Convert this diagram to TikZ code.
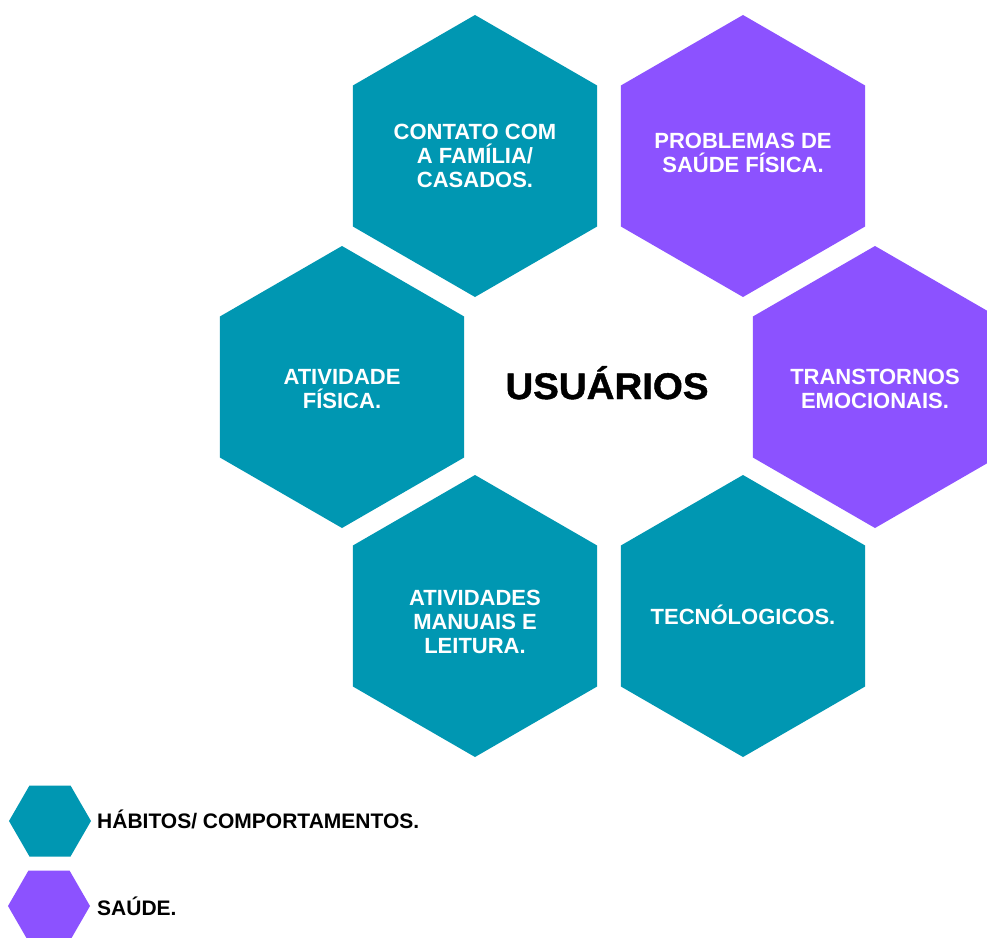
\documentclass[tikz,border=0pt]{standalone}
\usepackage{fontspec}
\setmainfont{Liberation Sans}
\newfontfamily\titlefont[FakeStretch=1.04,BoldFeatures={FakeBold=1.2}]{Liberation Sans}
\usetikzlibrary{shapes.geometric}
\definecolor{hexteal}{HTML}{0097B2}
\definecolor{hexpurple}{HTML}{8C52FF}
\begin{document}
\begin{tikzpicture}[x=1bp,y=-1bp,
  hexbig/.style={regular polygon, regular polygon sides=6, shape border rotate=30,
    minimum size=282bp, inner sep=0pt, draw=none},
  hextext/.style={inner sep=0pt, text=white, align=center,
    font=\fontsize{22bp}{24bp}\selectfont\bfseries},
  hexsmall/.style={regular polygon, regular polygon sides=6,
    minimum size=82bp, inner sep=0pt, draw=none},
  legendtext/.style={anchor=base west, inner sep=0pt, text=black,
    font=\fontsize{21bp}{24bp}\selectfont\bfseries}
]
\useasboundingbox (0,0) rectangle (987,938);
\clip (0,0) rectangle (987,938);
\fill[white] (0,0) rectangle (987,938);

\node[hexbig, fill=hexteal]   (tl) at (475,156) {};
\node[hexbig, fill=hexpurple] (tr) at (743,156) {};
\node[hexbig, fill=hexteal]   (ml) at (342,387) {};
\node[hexbig, fill=hexpurple] (mr) at (875,387) {};
\node[hexbig, fill=hexteal]   (bl) at (475,616) {};
\node[hexbig, fill=hexteal]   (br) at (743,616) {};

\node[hextext] (tlt) at ([yshift=0bp]tl.center) {CONTATO COM\\A FAMÍLIA/\\CASADOS.};
\node[hextext] (trt) at ([yshift=3bp]tr.center) {PROBLEMAS DE\\SAÚDE FÍSICA.};
\node[hextext] (mlt) at ([yshift=-2bp]ml.center) {ATIVIDADE\\FÍSICA.};
\node[hextext] (mrt) at ([yshift=-2bp]mr.center) {TRANSTORNOS\\EMOCIONAIS.};
\node[hextext] (blt) at ([yshift=-6bp]bl.center) {ATIVIDADES\\MANUAIS E\\LEITURA.};
\node[hextext, anchor=base] (brt) at ([yshift=-8bp]br.center) {TECNÓLOGICOS.};

\node[anchor=base, inner sep=0pt, text=black,
  font=\titlefont\fontsize{37bp}{40bp}\selectfont\bfseries] (center) at (607,399) {USUÁRIOS};

\node[hexsmall, fill=hexteal]   (leg1) at (50,821) {};
\node[hexsmall, fill=hexpurple] (leg2) at (49,906) {};
\node[legendtext] (leg1t) at (97,828.5) {HÁBITOS/ COMPORTAMENTOS.};
\node[legendtext] (leg2t) at (97,915) {SAÚDE.};
\end{tikzpicture}
\end{document}
